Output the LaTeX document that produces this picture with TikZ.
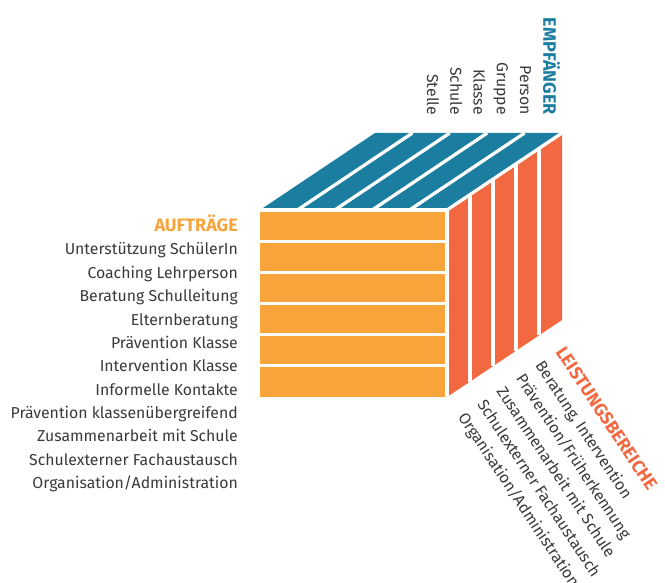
\documentclass[tikz,border=0pt]{standalone}
\usepackage{fontspec}
\setmainfont{Fira Sans}
\definecolor{auftrag}{HTML}{F7A43A}
\definecolor{empfang}{HTML}{1B7EA0}
\definecolor{leistung}{HTML}{F26841}
\definecolor{textgray}{HTML}{3A3A3A}

\begin{document}
\begin{tikzpicture}[x=1pt,y=-1pt]

    % Define styles
    \tikzstyle{divider} = [draw=white, line width=3.3pt]
    \tikzstyle{itemtext} = [inner sep=0pt, text=textgray, font=\fontsize{15.8}{19}\selectfont]
    \tikzstyle{headtext} = [inner sep=0pt, font=\fontsize{18}{21}\selectfont\bfseries]

    \useasboundingbox (0,0) rectangle (665,583);

    % Cube faces
    \fill[auftrag] (260,210) rectangle (447,397);
    \fill[empfang] (260,210) -- (447,210) -- (562,133) -- (375,133) -- cycle;
    \fill[leistung] (447,210) -- (562,133) -- (562,320) -- (447,397) -- cycle;

    % Face edges
    \draw[divider] (260,210) -- (447,210);
    \draw[divider] (447,210) -- (447,397);
    \draw[divider] (447,210) -- (562,133);

    % Rows (front)
    \draw[divider] (260,241.2) -- (447,241.2);
    \draw[divider] (260,272.3) -- (447,272.3);
    \draw[divider] (260,303.5) -- (447,303.5);
    \draw[divider] (260,334.7) -- (447,334.7);
    \draw[divider] (260,365.8) -- (447,365.8);

    % Stripes (top)
    \draw[divider] (297.4,210) -- (412.4,133);
    \draw[divider] (334.8,210) -- (449.8,133);
    \draw[divider] (372.2,210) -- (487.2,133);
    \draw[divider] (409.6,210) -- (524.6,133);

    % Stripes (side)
    \draw[divider] (470,194.6) -- (470,381.6);
    \draw[divider] (493,179.2) -- (493,366.2);
    \draw[divider] (516,163.8) -- (516,350.8);
    \draw[divider] (539,148.4) -- (539,335.4);

    % Auftraege
    \node[headtext, text=auftrag, anchor=base east] (auftraege) at (238,231.7) {AUFTRÄGE};
    \node[itemtext, anchor=base east] (schueler) at (238,255) {Unterstützung SchülerIn};
    \node[itemtext, anchor=base east] (coaching) at (238,278.3) {Coaching Lehrperson};
    \node[itemtext, anchor=base east] (schulleitung) at (238,301.6) {Beratung Schulleitung};
    \node[itemtext, anchor=base east] (eltern) at (238,325) {Elternberatung};
    \node[itemtext, anchor=base east] (praevKlasse) at (238,348.3) {Prävention Klasse};
    \node[itemtext, anchor=base east] (interKlasse) at (238,371.6) {Intervention Klasse};
    \node[itemtext, anchor=base east] (kontakte) at (238,395) {Informelle Kontakte};
    \node[itemtext, anchor=base east] (praevUeber) at (238,418.3) {Prävention klassenübergreifend};
    \node[itemtext, anchor=base east] (zusammen) at (238,441.6) {Zusammenarbeit mit Schule};
    \node[itemtext, anchor=base east] (extern) at (238,465) {Schulexterner Fachaustausch};
    \node[itemtext, anchor=base east] (orga) at (238,488.3) {Organisation/Administration};

    % Empfaenger
    \node[headtext, text=empfang, anchor=base east, rotate=-90] (empfaenger) at (543.3,115) {EMPFÄNGER};
    \node[itemtext, anchor=base east, rotate=-90] (person) at (520,115) {Person};
    \node[itemtext, anchor=base east, rotate=-90] (gruppe) at (496.8,115) {Gruppe};
    \node[itemtext, anchor=base east, rotate=-90] (klasse) at (473.6,115) {Klasse};
    \node[itemtext, anchor=base east, rotate=-90] (schule) at (450.4,115) {Schule};
    \node[itemtext, anchor=base east, rotate=-90] (stelle) at (427.2,115) {Stelle};

    % Leistungsbereiche
    \node[headtext, text=leistung, anchor=base west, rotate=-56.4] (leistungen) at (555,352) {LEISTUNGSBEREICHE};
    \node[itemtext, anchor=base west, rotate=-56.4] (beratung) at (534.7,365.8) {Beratung, Intervention};
    \node[itemtext, anchor=base west, rotate=-56.4] (frueh) at (515.4,378.6) {Prävention/Früherkennung};
    \node[itemtext, anchor=base west, rotate=-56.4] (mitSchule) at (496.1,391.4) {Zusammenarbeit mit Schule};
    \node[itemtext, anchor=base west, rotate=-56.4] (fachaustausch) at (476.8,404.2) {Schulexterner Fachaustausch};
    \node[itemtext, anchor=base west, rotate=-56.4] (administration) at (457.5,417) {Organisation/Administration};

\end{tikzpicture}
\end{document}
